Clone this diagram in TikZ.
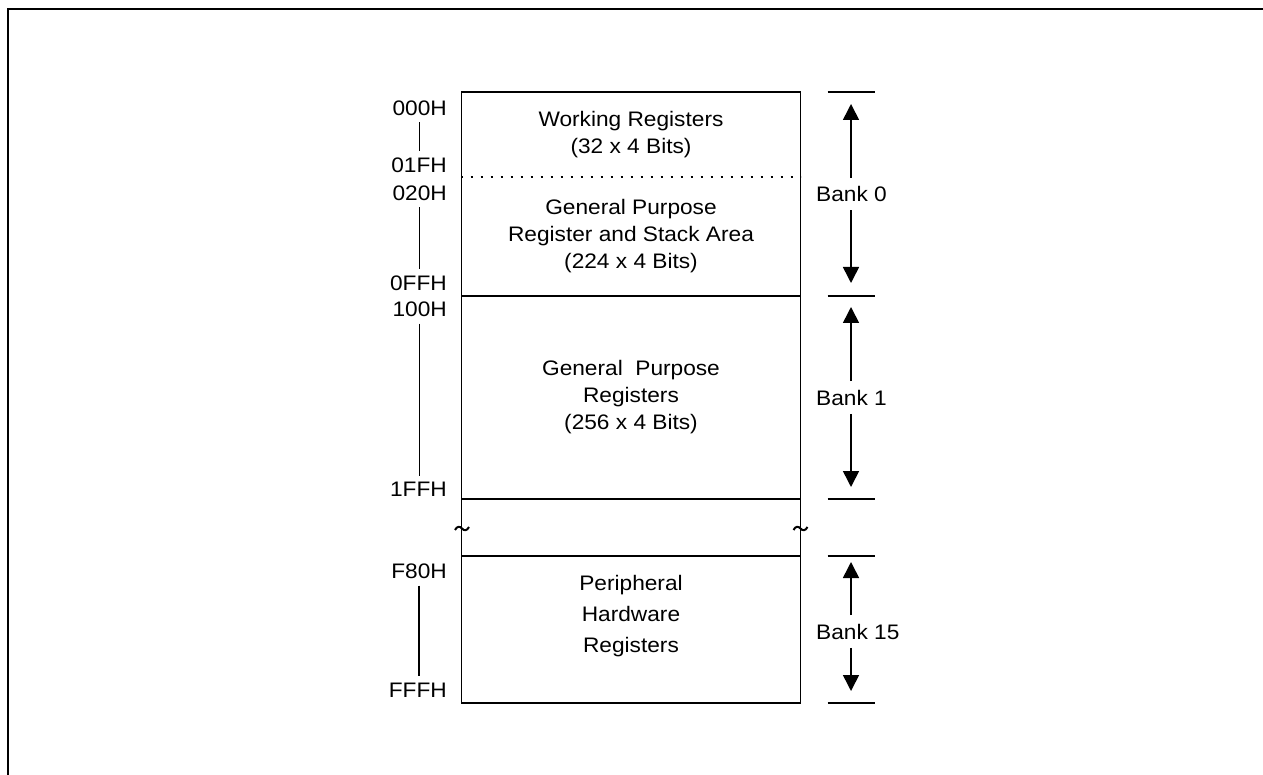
\documentclass[tikz,border=0pt]{standalone}
\usepackage{fontspec}
\setmainfont{Liberation Sans}[FakeStretch=1.08]
\usetikzlibrary{arrows.meta}
\begin{document}
\begin{tikzpicture}[x=1pt,y=-1pt,
  txt/.style={font=\fontsize{21}{27}\selectfont, align=center, inner sep=0pt},
  addr/.style={font=\fontsize{21}{27}\selectfont, anchor=east, inner xsep=0pt, inner ysep=6.5pt},
  bank/.style={font=\fontsize{21}{27}\selectfont, anchor=west, inner xsep=0pt, inner ysep=8.5pt},
  boxline/.style={line width=1.8pt},
  tickline/.style={line width=1.8pt},
  vline/.style={line width=1.6pt},
  breakmark/.style={line width=2pt},
  arr/.style={line width=1.6pt, -{Triangle[width=16pt,length=16pt]}},
  ]
\useasboundingbox (0,0) rectangle (1263,775);
\clip (0,0) rectangle (1263,775);
\draw[line width=2.4pt] (8,9) rectangle (1300,800);

% memory box
\draw[boxline] (461.5,92) rectangle (800.5,703);
\draw[line width=1.6pt, dash pattern=on 2pt off 8pt, dash phase=-9pt] (461.5,177) -- (800.5,177);
\draw[boxline] (461.5,296) -- (800.5,296);
\draw[boxline] (461.5,499) -- (800.5,499);
\draw[boxline] (461.5,556) -- (800.5,556);

% contents
\node[txt] (wr) at (631,134.5) {Working Registers\\(32 x 4 Bits)};
\node[txt] (gp) at (631,236.5) {General Purpose\\Register and Stack Area\\(224 x 4 Bits)};
\node[txt] (gr) at (631,397.5) {General\ \ Purpose\\Registers\\(256 x 4 Bits)};
\node[txt] (ph) at (631,616) {Peripheral\\[4pt]Hardware\\[4pt]Registers};

% break marks
\foreach \bx in {462,800.5}
  \draw[breakmark] (\bx-7,530) .. controls (\bx-5,526) and (\bx-2,526) .. (\bx,528.5)
                   .. controls (\bx+2,531) and (\bx+5,531) .. (\bx+7,527);

% addresses
\node[addr] (a000) at (447,108) {000H};
\node[addr] (a01F) at (447,165.5) {01FH};
\node[addr] (a020) at (447,193) {020H};
\node[addr] (a0FF) at (447,283) {0FFH};
\node[addr] (a100) at (447,309.5) {100H};
\node[addr] (a1FF) at (447,489.5) {1FFH};
\node[addr] (aF80) at (447,571.5) {F80H};
\node[addr] (aFFF) at (447,690) {FFFH};
\draw[vline] (a000.south) -- (a000.south |- a01F.north);
\draw[vline] (a020.south) -- (a020.south |- a0FF.north);
\draw[vline] (a100.south) -- (a100.south |- a1FF.north);
\draw[vline] (aF80.south) -- (aF80.south |- aFFF.north);

% bank ticks
\coordinate (t0) at (851,92);
\coordinate (t1) at (851,296);
\coordinate (t2) at (851,499);
\coordinate (t3) at (851,556);
\coordinate (t4) at (851,703);
\foreach \t in {t0,t1,t2,t3,t4}
  \draw[tickline] ([xshift=-23.5pt]\t) -- ([xshift=23.5pt]\t);

% bank labels and arrows
\node[bank] (b0) at (816,194) {Bank 0};
\node[bank] (b1) at (816,397.5) {Bank 1};
\node[bank] (b15) at (816,631.5) {Bank 15};
\draw[arr, shorten >=12pt] (b0.north -| t0) -- (t0);
\draw[arr, shorten >=13pt] (b0.south -| t0) -- (t1);
\draw[arr, shorten >=11pt] (b1.north -| t1) -- (t1);
\draw[arr, shorten >=12pt] (b1.south -| t1) -- (t2);
\draw[arr, shorten >=6pt] (b15.north -| t3) -- (t3);
\draw[arr, shorten >=12pt] (b15.south -| t3) -- (t4);
\end{tikzpicture}
\end{document}
